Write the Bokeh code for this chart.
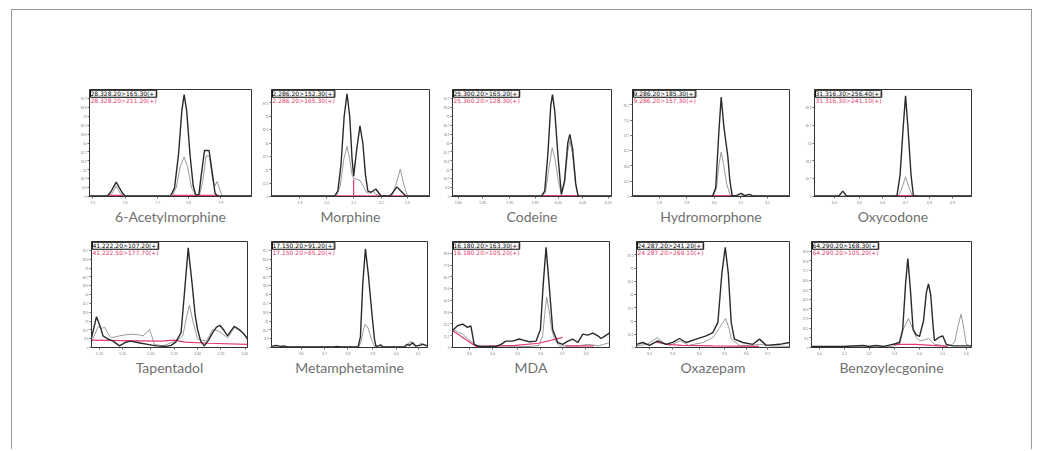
from bokeh.plotting import figure
from bokeh.layouts import row, column, Spacer
from bokeh.models import Range1d, FixedTicker, Label
from bokeh.embed import file_html
from bokeh.resources import INLINE

# ---------------- data (x: % of acquisition window, y: % of full scale) ----------------
names = ["6-Acetylmorphine", "Morphine", "Codeine", "Hydromorphone", "Oxycodone",
         "Tapentadol", "Metamphetamine", "MDA", "Oxazepam", "Benzoylecgonine"]

quant_ions = ["28.328.20>165.30(+)", "2.286.20>152.30(+)", "25.300.20>165.20(+)",
              "9.286.20>185.30(+)", "31.316.30>256.40(+)", "41.222.20>107.20(+)",
              "17.150.20>91.20(+)", "16.180.20>163.30(+)", "24.287.20>241.20(+)",
              "64.290.20>168.30(+)"]
qual_ions = ["28.328.20>211.20(+)", "2.286.20>165.30(+)", "25.300.20>128.30(+)",
             "9.286.20>157.30(+)", "31.316.30>241.10(+)", "41.222.50>177.70(+)",
             "17.150.20>65.20(+)", "16.180.20>105.20(+)", "24.287.20>269.10(+)",
             "64.290.20>105.20(+)"]

p1_black = [(0,0.5),(11,0.5),(13,4),(16.5,13.4),(20,4),(22,0.5),(50,0.5),(52.5,8),(55,40),(57,80),(58.4,95.3),(60,80),(62,40),(64,10),(65.6,1.5),(67.5,1.5),(69,20),(71,43),(73.8,43),(76,20),(77.5,3),(79,0.5),(100,0.5)]
p1_gray = [(0,0.5),(12,0.5),(14,3),(16.5,10),(19,3),(21,0.5),(51,0.5),(53.5,8),(56,28),(58.4,37),(60.5,28),(63,8),(65.5,1),(68,2),(70,15),(72,38),(74,38),(76,15),(77.5,10),(78.8,14),(80.5,6),(82,0.5),(100,0.5)]
p1_red = [[(12,1),(21,1)], [(51,1),(80,1)]]

p2_black = [(0,0.5),(40,0.5),(42,5),(44,30),(46,75),(47.8,96),(49.5,75),(51,35),(52,19),(54,45),(56,66),(57.8,50),(59.5,20),(61,5),(63,4),(66,7),(68,3),(69.5,0.5),(75,0.5),(77,4),(79.4,9),(82,5),(85,0.5),(100,0.5)]
p2_gray = [(0,0.5),(41,0.5),(43.5,10),(45.8,35),(47.8,47),(49.5,35),(51,20),(52,17),(54,16),(56,15),(58,10),(60,4),(62,3),(64.5,5),(66,2),(70,0.5),(76,0.5),(78.5,10),(81.5,25.5),(84,10),(86,0.5),(100,0.5)]
p2_red = [[(41,0.7),(86,0.7)], [(52,0.7),(52,16)]]

p3_black = [(0,0.5),(56,0.5),(58,5),(60,40),(61.8,85),(62.9,95.3),(64.3,80),(66.5,35),(68.5,2),(70.5,15),(72.5,50),(73.8,58),(75.5,45),(77.5,12),(79,0.5),(100,0.5)]
p3_gray = [(0,0.5),(56.5,0.5),(58.5,4),(60.5,25),(62.7,45.6),(64.5,35),(66.5,15),(68.5,2),(70.5,12),(72.5,42),(73.8,52),(75.5,40),(77.5,10),(79,0.5),(100,0.5)]
p3_red = [[(56,0.8),(79,0.8)]]

p4_black = [(0,0.5),(51,0.5),(53,8),(55,60),(56.5,93),(58.2,65),(60.7,37.6),(62,15),(63.5,0.8),(66,0.8),(69.2,3),(71.5,0.8),(73,1.5),(74.5,2),(76.5,0.5),(100,0.5)]
p4_gray = [(0,0.5),(51.5,0.5),(53.5,8),(55.3,32),(56.5,41.4),(58,30),(60,12),(62,2),(63.5,0.5),(72,0.5),(74.5,2),(76.5,0.5),(100,0.5)]
p4_red = [[(51,0.8),(64,0.8)]]

p5_black = [(0,0.5),(15.5,0.5),(18,5),(20.5,0.5),(52.5,0.5),(54.5,20),(56.5,65),(58,94),(59.5,65),(61.5,20),(63,0.5),(100,0.5)]
p5_gray = [(0,0.5),(53.5,0.5),(55.5,7),(58,18.5),(60.5,7),(62.5,0.5),(100,0.5)]
p5_red = [[(51,0.8),(65,0.8)]]

p6_black = [(0,9),(3.2,29),(5.5,20),(7.4,11),(10.5,8),(13.8,6),(18,1.5),(22,5),(25,6),(28.7,5),(32,4),(36,3),(41.5,1.5),(48,1),(51,2),(54,5),(57.4,14),(59.5,50),(62,94),(64.5,60),(66.5,30),(68,17),(70,6),(72.3,1.5),(75,7),(77.7,14),(80,19),(82.3,21),(85,16),(87.2,11),(89.5,16),(91.5,20),(94.7,17),(97.9,12.5),(100,8)]
p6_gray = [(0,5),(4.3,20),(6.5,18),(8.5,19),(10.5,13),(12.8,9),(15,10),(18,11),(22,12),(26.6,12.5),(30,12),(33,11),(35.5,14),(37.2,17),(38.8,10),(40.4,3),(45.7,1.5),(52,5),(56,8),(58.5,11),(60.8,28),(62.8,40),(65,25),(68,8),(73.4,6),(75.5,11),(77.7,17),(80.5,16),(83,14),(87.2,9),(89.5,14),(91.5,19),(93.5,17),(95.7,15.6),(100,9)]
p6_red = [[(0,7),(20,6.5),(45,6),(53,7),(60,5),(75,4),(100,3)]]

p7_black = [(0,1),(3,2),(6,1),(8,1.5),(10,0.5),(40,0.5),(42,1),(44,0.5),(55.5,0.5),(57,10),(58.5,60),(60.2,93),(62,70),(64.5,30),(66,8),(67,1),(68.5,1.5),(70,2.5),(71.5,0.5),(85,0.5),(87,3),(88.5,2),(90.4,4.7),(92.5,1.5),(95,2),(97,3),(100,1.5)]
p7_gray = [(0,0.5),(56,0.5),(57.5,6),(59,17),(60.2,22),(62,18),(64,8),(66,1),(68,0.5),(86,0.5),(89,6),(91,2),(93,0.5),(95.5,4),(98,3),(100,1)]
p7_red = []

p8_black = [(0,16),(3.2,20.5),(6.4,22),(9.6,19),(11.7,20.5),(13.8,3),(17,1),(27.7,1),(30.9,3),(34,6),(38.3,6),(42.5,8),(45,7),(49,5.4),(53.2,6),(56,17),(57.8,60),(59.6,94.6),(61.5,60),(63.8,17),(67,4.7),(70.2,3),(73.5,6),(76.6,8),(79.8,4.7),(83,12.6),(86.2,11.7),(89.4,13.6),(92.6,11),(94.7,8.5),(97.9,11.7),(100,13.6)]
p8_gray = [(0,17.4),(3,15),(6.4,12.6),(10,8),(14.9,2),(20,0.5),(40,0.8),(50,1),(55,2),(57.4,11),(58.8,32),(60,47.3),(61.5,35),(63,18),(64.9,7.9),(68,1.5),(80,1.5),(86.2,3),(93,1.5),(100,4.7)]
p8_red = [[(0,16),(15,1),(40,2),(55,4),(70.2,9.5)], [(72,1.5),(90,1.5)]]

p9_black = [(0,3),(4.1,4.7),(8.5,2),(13.9,6.3),(19.4,3),(24,5),(28,8.5),(32.5,4.7),(39,7.9),(45.5,11),(49.9,14),(53.2,23.7),(55.8,70),(58,94.6),(60,70),(61.9,23.7),(64,7.9),(69.5,4.7),(76,3),(80.4,7.9),(84.8,2),(93.5,3),(100,4.7)]
p9_gray = [(0,1.5),(7,3),(13.9,9.5),(17,5),(21.6,2),(28.7,6.3),(34,2),(43.6,4.7),(50,9.5),(54,18),(58.2,27.4),(60.5,18),(62,8),(67.3,2),(75,2),(80.4,3),(88,1.5),(100,1)]
p9_red = [[(13,5),(20,3),(30,2),(50,1.5),(80,1)]]

p10_black = [(0,1),(20,1),(32,2),(36,1),(40.4,2),(45,1),(50.8,3),(55,4.7),(57,17),(58.8,60),(60.2,84),(61.8,55),(63.5,17),(65.5,12),(67.5,10.4),(70,25),(71.8,52),(73.1,60),(74.5,50),(76,20),(76.9,6.3),(79.6,9.5),(82,11),(84.2,3),(88.3,1.5),(100,1.5)]
p10_gray = [(0,1),(50,1),(55,3),(57.3,17),(60.6,27.4),(63.5,17),(65.5,9),(67.5,6.3),(70,7),(73.1,8.5),(75.5,5),(77,3),(82,2),(84.2,1.5),(87,2),(89.4,4.7),(91.5,20),(93.5,31.5),(95.2,18),(96.7,3),(100,1)]
p10_red = [[(50,3),(65,3),(75,2),(85,1)]]

blacks = [p1_black, p2_black, p3_black, p4_black, p5_black, p6_black, p7_black, p8_black, p9_black, p10_black]
grays = [p1_gray, p2_gray, p3_gray, p4_gray, p5_gray, p6_gray, p7_gray, p8_gray, p9_gray, p10_gray]
reds = [p1_red, p2_red, p3_red, p4_red, p5_red, p6_red, p7_red, p8_red, p9_red, p10_red]

# tick positions and tick labels (retention time, min)
x_tick_pos = [[2,22,42,61,81], [18,35,52,69.5,86], [3.6,19,36,52,66.5,82,98], [17,34.6,52,69,86],
              [12.7,28.7,43.5,58,73.2,88], [5.3,20,38,53,68,83,99], [19,34,49,65,80,94],
              [10.6,25.5,41.5,56,70,85], [8.5,23.7,41,57.5,71.7,85.8], [5,20.6,36,52,67.5,82,96.7]]
x_tick_labels = [["7.5","7.6","7.7","7.8","7.9"], ["1.9","2.0","2.1","2.2","2.3"],
                 ["5.80","5.85","5.90","5.95","6.00","6.05","6.10"], ["2.8","2.9","3.0","3.1","3.2"],
                 ["6.4","6.5","6.6","6.7","6.8","6.9"], ["5.10","5.15","5.20","5.25","5.30","5.35","5.40"],
                 ["3.6","3.7","3.8","3.9","4.0","4.1"], ["3.3","3.4","3.5","3.6","3.7","3.8"],
                 ["9.2","9.3","9.4","9.5","9.6","9.7"], ["5.0","5.1","5.2","5.3","5.4","5.5","5.6"]]
y_tick_counts = [12, 8, 12, 7, 6, 12, 12, 9, 8, 11]

# ---------------- layout (screen pixels) ----------------
row1_frames = [(90, 162), (272, 158), (453, 159), (633, 157), (815, 157)]
row2_frames = [(92, 156), (272, 156), (453, 157), (637, 153), (812, 160)]
LB, RB, TB, BB = 19, 1, 2, 34
row_fh = [107, 106]
inner_x0 = 13
inner_y0 = 11

BLACK, GRAY, RED = "#2a2a2a", "#9b9b9b", "#e23a6a"
HDR_FONT = "DejaVu Sans"


def make_panel(i, fw, fh):
    p = figure(width=LB + fw + RB, height=TB + fh + BB,
               x_range=Range1d(0, 100), y_range=Range1d(0, 100),
               output_backend="svg", toolbar_location=None,
               min_border_left=LB, min_border_right=RB,
               min_border_top=TB, min_border_bottom=BB)
    p.title.visible = False
    p.background_fill_color = "white"
    p.border_fill_color = "white"
    p.outline_line_color = "#333333"
    p.outline_line_width = 1
    p.xgrid.grid_line_color = None
    p.ygrid.grid_line_color = None

    bx, by = zip(*blacks[i])
    gx, gy = zip(*grays[i])
    p.line(x=list(gx), y=list(gy), line_color=GRAY, line_width=1.0)
    if reds[i]:
        xs = [[pt[0] for pt in seg] for seg in reds[i]]
        ys = [[pt[1] for pt in seg] for seg in reds[i]]
        p.multi_line(xs=xs, ys=ys, line_color=RED, line_width=1.2)
    p.line(x=list(bx), y=list(by), line_color=BLACK, line_width=1.4)

    xa = p.xaxis[0]
    xa.ticker = FixedTicker(ticks=x_tick_pos[i])
    xa.major_label_overrides = dict(zip(x_tick_pos[i], x_tick_labels[i]))
    xa.major_label_text_font_size = "3.5px"
    xa.major_label_text_color = "#777777"
    xa.major_label_standoff = 2
    xa.major_tick_in = 0
    xa.major_tick_out = 2
    xa.minor_tick_line_color = None
    xa.axis_line_color = "#333333"
    xa.major_tick_line_color = "#666666"
    xa.axis_label = names[i]
    xa.axis_label_text_font = "Lato"
    xa.axis_label_text_font_size = "14px"
    xa.axis_label_text_font_style = "normal"
    xa.axis_label_text_color = "#707070"
    xa.axis_label_standoff = 1

    n = y_tick_counts[i]
    ya = p.yaxis[0]
    ya.ticker = FixedTicker(ticks=[round(k * 100 / n, 1) for k in range(n)])
    ya.major_label_text_font_size = "3px"
    ya.major_label_text_color = "#777777"
    ya.major_label_standoff = 1
    ya.major_tick_in = 0
    ya.major_tick_out = 2
    ya.minor_tick_line_color = None
    ya.axis_line_color = "#333333"
    ya.major_tick_line_color = "#666666"

    p.add_layout(Label(x=0.6, y=99.3, text=quant_ions[i], text_font=HDR_FONT,
                       text_font_size="6px", text_color="black", text_baseline="top",
                       border_line_color="black", border_line_width=1,
                       background_fill_color="white"))
    p.add_layout(Label(x=0.6, y=99.3, y_offset=-7, text=qual_ions[i], text_font=HDR_FONT,
                       text_font_size="6px", text_color=RED, text_baseline="top"))
    return p


def make_row(frames, start, fh):
    kids = []
    cur = inner_x0
    for k, (fl, fw) in enumerate(frames):
        left = fl - LB
        gap = left - cur
        if gap > 0:
            kids.append(Spacer(width=gap, height=10))
        kids.append(make_panel(start + k, fw, fh))
        cur = left + LB + fw + RB
    return row(*kids)


row1 = make_row(row1_frames, 0, row_fh[0])
row2 = make_row(row2_frames, 5, row_fh[1])

row1_top = 90 - TB
row2_top = 242 - TB
row1_bottom = row1_top + TB + row_fh[0] + BB

frame_box = column(Spacer(height=row1_top - inner_y0, width=10), row1,
                   Spacer(height=row2_top - row1_bottom, width=10), row2,
                   width=1021, height=440,
                   styles={"border-top": "1px solid #9a9a9a",
                           "border-left": "1px solid #9a9a9a",
                           "border-right": "1px solid #9a9a9a",
                           "background-color": "white"})

root = column(Spacer(height=9, width=10), row(Spacer(width=11, height=10), frame_box))

open("out.html", "w").write(file_html(root, INLINE))
